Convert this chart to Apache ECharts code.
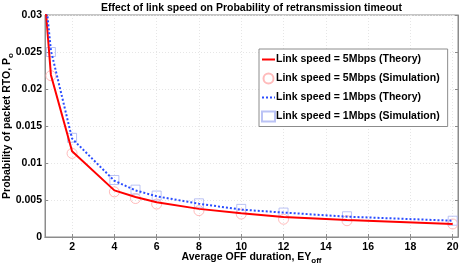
<!DOCTYPE html>
<html><head><meta charset="utf-8">
<script src="https://cdn.jsdelivr.net/npm/echarts@6/dist/echarts.min.js"></script>
<style>html,body{margin:0;padding:0;background:#fff}#c{width:461px;height:271px}</style>
</head><body><div id="c"></div>
<script>
var theoryX = [0.5, 1, 2, 4, 5, 6, 8, 10, 12, 15, 20];
var theory5 = [0.040, 0.0219, 0.0116, 0.0063, 0.0054, 0.0047, 0.0038, 0.0032, 0.0027, 0.0023, 0.00175];
var theory1 = [0.0395, 0.0252, 0.0133, 0.0076, 0.0063, 0.0055, 0.0045, 0.0037, 0.0033, 0.00275, 0.0022];
var simX = [1, 2, 4, 5, 6, 8, 10, 12, 15, 20];
var sim5 = [0.0218, 0.0113, 0.0061, 0.0052, 0.00445, 0.00356, 0.0031, 0.0024, 0.0022, 0.00176];
var sim1 = [0.0250, 0.0134, 0.0077, 0.0064, 0.0056, 0.00455, 0.0038, 0.0033, 0.0028, 0.0022];
var xTicks = [2, 4, 6, 8, 10, 12, 14, 16, 18, 20];
var yTicks = [0, 0.005, 0.01, 0.015, 0.02, 0.025, 0.03];
var names = ['Link speed = 5Mbps (Theory)', 'Link speed = 5Mbps (Simulation)', 'Link speed = 1Mbps (Theory)', 'Link speed = 1Mbps (Simulation)'];

function zip(xs, ys) { return xs.map(function (x, i) { return [x, ys[i]]; }); }
var FONT = 'Liberation Sans';
var FS = 10.5;
var axisCol = '#8c8c8c';
var chart = echarts.init(document.getElementById('c'), null, {renderer: 'canvas'});
chart.setOption({
  animation: false,
  backgroundColor: '#fff',
  title: {
    text: 'Effect of link speed on Probability of retransmission timeout',
    left: 251.5, textAlign: 'center', top: 3, padding: 0,
    textStyle: {fontFamily: FONT, fontWeight: 'bold', fontSize: FS, color: '#000'}
  },
  grid: {left: 45, top: 15, right: 3, bottom: 34, show: true, borderColor: axisCol, borderWidth: 1,
    backgroundColor: 'transparent', containLabel: false, outerBoundsMode: 'none'},
  legend: {
    orient: 'vertical', left: 259, top: 49, width: 199,
    data: [
      {name: names[0], itemStyle: {opacity: 0}},
      {name: names[1]},
      {name: names[2], itemStyle: {opacity: 0}},
      {name: names[3]}
    ],
    backgroundColor: '#fff', borderColor: axisCol, borderWidth: 1,
    padding: [5, 8, 4, 2], itemGap: 7.5, itemWidth: 13, itemHeight: 10,
    textStyle: {fontFamily: FONT, fontWeight: 'bold', fontSize: FS, color: '#000', padding: [0, 0, 0, -4]}
  },
  xAxis: [{
    type: 'value', min: 0.72, max: 20.25,
    name: 'Average OFF duration, EY{sub|off}', nameLocation: 'middle', nameGap: 12, nameMoveOverlap: false,
    nameTextStyle: {fontFamily: FONT, fontWeight: 'bold', fontSize: FS, color: '#000', verticalAlign: 'top',
      rich: {sub: {fontFamily: FONT, fontWeight: 'bold', fontSize: 8, verticalAlign: 'bottom', padding: [8, 0, 0, 0], color: '#000'}}},
    axisLine: {show: true, onZero: false, lineStyle: {color: axisCol}},
    axisTick: {show: true, inside: true, length: 3, customValues: xTicks, lineStyle: {color: axisCol}},
    axisLabel: {customValues: xTicks, fontFamily: FONT, fontWeight: 'bold', fontSize: FS, color: '#000', margin: 5},
    splitLine: {show: true, lineStyle: {color: '#e6e6e6', type: [1, 2]}}
  }, {
    type: 'value', position: 'top', min: 0.72, max: 20.25,
    axisLine: {show: true, lineStyle: {color: axisCol}},
    axisTick: {show: true, inside: true, length: 3, customValues: xTicks, lineStyle: {color: axisCol}},
    axisLabel: {show: false}, splitLine: {show: false}
  }],
  yAxis: [{
    type: 'value', min: 0, max: 0.03, interval: 0.005,
    name: 'Probability of packet RTO, P{sub|o}', nameLocation: 'middle', nameGap: 30, nameMoveOverlap: false,
    nameTextStyle: {fontFamily: FONT, fontWeight: 'bold', fontSize: FS, color: '#000',
      rich: {sub: {fontFamily: FONT, fontWeight: 'bold', fontSize: 8, padding: [7, 0, 0, 0], color: '#000'}}},
    axisLine: {show: true, lineStyle: {color: axisCol}},
    axisTick: {show: true, inside: true, length: 3, lineStyle: {color: axisCol}},
    axisLabel: {fontFamily: FONT, fontWeight: 'bold', fontSize: FS, color: '#000', margin: 3,
      formatter: function (v) { return String(parseFloat(v.toFixed(4))); }},
    splitLine: {show: true, lineStyle: {color: '#e6e6e6', type: [1, 2]}}
  }, {
    type: 'value', position: 'right', min: 0, max: 0.03, interval: 0.005,
    axisLine: {show: true, lineStyle: {color: axisCol}},
    axisTick: {show: true, inside: true, length: 3, lineStyle: {color: axisCol}},
    axisLabel: {show: false}, splitLine: {show: false}
  }],
  series: [{
    name: names[0], type: 'line', data: zip(theoryX, theory5), symbol: 'none', clip: true,
    lineStyle: {color: '#ff0000', width: 2}, itemStyle: {color: '#ff0000'}, z: 3
  }, {
    name: names[1], type: 'scatter', data: zip(simX, sim5), symbol: 'circle', symbolSize: 10,
    itemStyle: {color: 'rgba(0,0,0,0)', borderColor: '#ffaaaa', borderWidth: 1}, z: 2
  }, {
    name: names[2], type: 'line', data: zip(theoryX, theory1), symbol: 'none', clip: true,
    lineStyle: {color: '#2a4dff', width: 2, type: [2, 2]}, itemStyle: {color: '#2a4dff'}, z: 3
  }, {
    name: names[3], type: 'scatter', data: zip(simX, sim1), symbol: 'rect', symbolSize: 9,
    itemStyle: {color: 'rgba(0,0,0,0)', borderColor: '#aab4f2', borderWidth: 1}, z: 2
  }]
});
</script></body></html>
